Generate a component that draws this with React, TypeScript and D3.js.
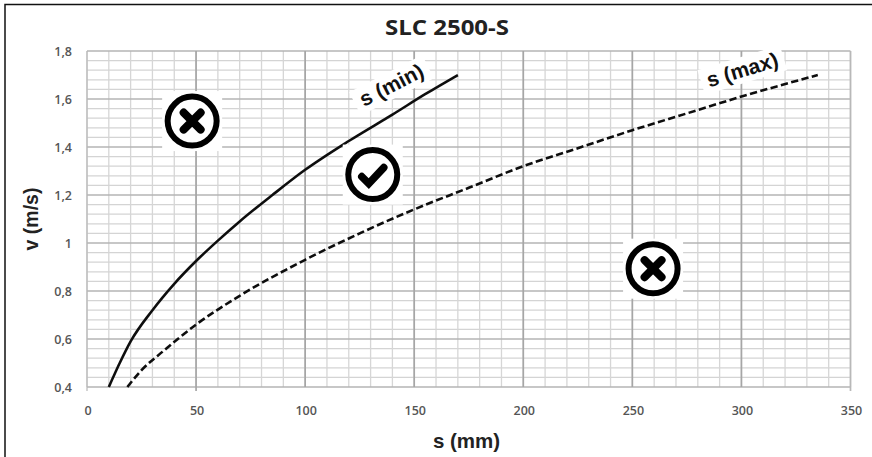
import React from "react";
import * as d3 from "d3";

const title = "SLC 2500-S";
const xLabel = "s (mm)";
const yLabel = "v (m/s)";
const xTicks = [0, 50, 100, 150, 200, 250, 300, 350];
const yTicks = [0.4, 0.6, 0.8, 1.0, 1.2, 1.4, 1.6, 1.8];
const xMinor = d3.range(0, 351, 10);
const yMinor = [0.44,0.48,0.52,0.56,0.64,0.68,0.72,0.76,0.84,0.88,0.92,0.96,1.04,1.08,1.12,1.16,1.24,1.28,1.32,1.36,1.44,1.48,1.52,1.56,1.64,1.68,1.72,1.76];
const minS = [10,15,20,30,40,50,60,70,85,100,120,140,155,170];
const minV = [0.4,0.5,0.59,0.72,0.83,0.925,1.01,1.09,1.2,1.305,1.425,1.535,1.62,1.7];
const maxS = [18.5,25,35,50,70,100,125,150,175,200,225,250,275,300,335];
const maxV = [0.4,0.47,0.55,0.66,0.78,0.93,1.04,1.14,1.23,1.32,1.395,1.47,1.54,1.61,1.7];
const icons = [
  { s: 48.2, v: 1.508, kind: "x" },
  { s: 131, v: 1.285, kind: "check" },
  { s: 259.5, v: 0.893, kind: "x" },
];

const x = d3.scaleLinear().domain([0, 350]).range([87, 850.5]);
const y = d3.scaleLinear().domain([0.4, 1.8]).range([387, 51]);
const line = d3.line<number>().x((d) => x(d)).curve(d3.curveMonotoneX);
const path = (s: number[], v: number[]) => line.y((_, i) => y(v[i]))(s) as string;
const fmt = (v: number) => (Number.isInteger(v) ? String(v) : v.toFixed(1).replace(".", ","));

function Icon({ cx, cy, kind }: { cx: number; cy: number; kind: string }) {
  return (
    <g transform={`translate(${cx},${cy})`}>
      <rect x={-30} y={-30} width={60} height={60} fill="#fff" />
      <circle r={24.5} fill="#fff" stroke="#000" strokeWidth={6} />
      {kind === "x" ? (
        <path d="M-8.5,-8.5L8.5,8.5M8.5,-8.5L-8.5,8.5" stroke="#000" strokeWidth={8} strokeLinecap="round" fill="none" />
      ) : (
        <path d="M-11,2L-4,9L11,-7" stroke="#000" strokeWidth={7.5} strokeLinecap="round" strokeLinejoin="miter" fill="none" />
      )}
    </g>
  );
}

export default function App() {
  const [x0, x1] = x.range();
  const [y0, y1] = y.range();
  return (
    <svg width={872} height={457} style={{ position: "fixed", left: 0, top: 0 }}>
      <defs>
        <filter id="soft" x="-2%" y="-2%" width="104%" height="104%">
          <feGaussianBlur stdDeviation="0.35" />
        </filter>
      </defs>
      <rect width={872} height={457} fill="#fff" />
      <path d="M872,4.5H5V457" fill="none" stroke="#111" strokeWidth={1.5} />
      <g filter="url(#soft)">
        {yMinor.map((v) => (
          <line key={v} x1={x0} x2={x1} y1={y(v)} y2={y(v)} stroke="#d4d4d4" strokeWidth={1.3} />
        ))}
        {xMinor.map((s) => (
          <line key={s} x1={x(s)} x2={x(s)} y1={y0} y2={y1} stroke="#d6d6d6" strokeWidth={1.3} />
        ))}
        {yTicks.map((v) => (
          <line key={v} x1={x0} x2={x1} y1={y(v)} y2={y(v)} stroke="#b4b4b4" strokeWidth={1.3} />
        ))}
        {xTicks.map((s) => (
          <line key={s} x1={x(s)} x2={x(s)} y1={y0 + (s === 0 || s === 350 || s === 50 ? 4 : 0)} y2={y1} stroke={s === 0 || s === 350 ? "#b8b8b8" : "#a6a6a6"} strokeWidth={s === 0 ? 1.2 : 1.7} />
        ))}
        <path d={path(minS, minV)} fill="none" stroke="#111" strokeWidth={2.6} />
        <path d={path(maxS, maxV)} fill="none" stroke="#111" strokeWidth={2.6} strokeDasharray="7.3 3.4" />
      </g>
      <g fontFamily="'Open Sans'" fontSize={12.5} fontWeight={600} fill="#555">
        {xTicks.map((s) => (
          <text key={s} x={x(s) + 1} y={414.5} textAnchor="middle">{fmt(s)}</text>
        ))}
        {yTicks.map((v) => (
          <text key={v} x={72} y={y(v) + 1} dy="0.32em" textAnchor="end">{fmt(v)}</text>
        ))}
      </g>
      <text x={447} y={34.5} textAnchor="middle" fontFamily="'Open Sans'" fontWeight={700} fontSize={22} textLength={124} lengthAdjust="spacingAndGlyphs" fill="#222">{title}</text>
      <text x={466.5} y={448} textAnchor="middle" fontFamily="'Liberation Sans'" fontWeight={700} fontSize={20.5} fill="#222">{xLabel}</text>
      <text transform="translate(38,219) rotate(-90)" textAnchor="middle" fontFamily="'Liberation Sans'" fontWeight={700} fontSize={19.5} fill="#222">{yLabel}</text>
      <g transform="translate(392.5,87) rotate(-27)">
        <rect x={-41} y={-15} width={82} height={26} fill="#fff" />
        <text textAnchor="middle" y={5} fontFamily="'Liberation Sans'" fontWeight={700} fontSize={21} fill="#111">s (min)</text>
      </g>
      <g transform="translate(743,72) rotate(-17)">
        <rect x={-43} y={-15} width={86} height={26} fill="#fff" />
        <text textAnchor="middle" y={5} fontFamily="'Liberation Sans'" fontWeight={700} fontSize={21} fill="#111">s (max)</text>
      </g>
      {icons.map((d, i) => (
        <Icon key={i} cx={x(d.s)} cy={y(d.v)} kind={d.kind} />
      ))}
    </svg>
  );
}
